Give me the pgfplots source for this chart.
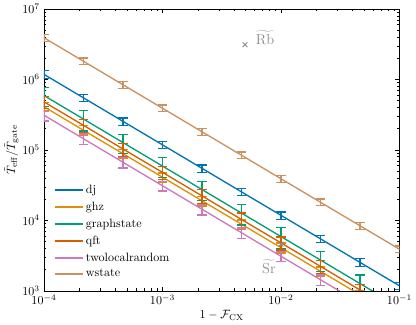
\documentclass[border=0pt]{standalone}
\usepackage{pgfplots}
\pgfplotsset{compat=1.18}
\definecolor{cdj}{HTML}{0173B2}
\definecolor{cghz}{HTML}{DE8F05}
\definecolor{cgraph}{HTML}{029E73}
\definecolor{cqft}{HTML}{D55E00}
\definecolor{ctwo}{HTML}{CC78BC}
\definecolor{cw}{HTML}{CA9161}
\definecolor{ann}{HTML}{8C8C8C}

% columns: 1-F_CX, ratio, relative error
\pgfplotstableread{
x y e
1e-4 1.18e6 0.13
2.154e-4 5.48e5 0.12
4.642e-4 2.54e5 0.12
1e-3 1.18e5 0.12
2.154e-3 5.48e4 0.12
4.642e-3 2.54e4 0.12
1e-2 1.18e4 0.12
2.154e-2 5.48e3 0.12
4.642e-2 2.54e3 0.13
1e-1 1.18e3 0.12
}\dj
\pgfplotstableread{
x y e
1e-4 4.1e5 0.15
2.154e-4 1.90e5 0.16
4.642e-4 8.83e4 0.15
1e-3 4.1e4 0.15
2.154e-3 1.90e4 0.16
4.642e-3 8.83e3 0.15
1e-2 4.1e3 0.16
2.154e-2 1.90e3 0.15
4.642e-2 8.83e2 0.15
1e-1 4.1e2 0.15
}\ghz
\pgfplotstableread{
x y e
1e-4 5.9e5 0.30
2.154e-4 2.74e5 0.32
4.642e-4 1.27e5 0.30
1e-3 5.9e4 0.31
2.154e-3 2.74e4 0.30
4.642e-3 1.27e4 0.32
1e-2 5.9e3 0.33
2.154e-2 2.74e3 0.31
4.642e-2 1.27e3 0.32
1e-1 5.9e2 0.30
}\graph
\pgfplotstableread{
x y e
1e-4 4.8e5 0.20
2.154e-4 2.23e5 0.22
4.642e-4 1.03e5 0.21
1e-3 4.8e4 0.20
2.154e-3 2.23e4 0.22
4.642e-3 1.03e4 0.24
1e-2 4.8e3 0.21
2.154e-2 2.23e3 0.22
4.642e-2 1.03e3 0.20
1e-1 4.8e2 0.20
}\qft
\pgfplotstableread{
x y e
1e-4 3.1e5 0.17
2.154e-4 1.44e5 0.17
4.642e-4 6.68e4 0.17
1e-3 3.1e4 0.16
2.154e-3 1.44e4 0.17
4.642e-3 6.68e3 0.17
1e-2 3.1e3 0.16
2.154e-2 1.44e3 0.17
4.642e-2 6.68e2 0.17
1e-1 3.1e2 0.17
}\two
\pgfplotstableread{
x y e
1e-4 3.9e6 0.12
2.154e-4 1.81e6 0.11
4.642e-4 8.40e5 0.11
1e-3 3.9e5 0.11
2.154e-3 1.81e5 0.11
4.642e-3 8.40e4 0.11
1e-2 3.9e4 0.11
2.154e-2 1.81e4 0.11
4.642e-2 8.40e3 0.11
1e-1 3.9e3 0.11
}\wst

\begin{document}
\begin{tikzpicture}
\begin{loglogaxis}[
  scale only axis,
  width=295pt, height=234pt,
  xmin=1e-4, xmax=1e-1,
  ymin=1e3, ymax=1e7,
  xlabel={$1-\mathcal{F}_{\mathrm{CX}}$},
  ylabel={$\tilde{T}_{\mathrm{eff}}/\tilde{T}_{\mathrm{gate}}$},
  xlabel style={at={(axis description cs:0.5,-0.087)}, anchor=center},
  ylabel style={at={(axis description cs:-0.092,0.5)}, anchor=center},
  tick align=inside,
  major tick length=3.5pt,
  minor tick length=2pt,
  every tick/.style={black, thin},
  axis line style={black, thin},
  legend style={at={(0.017,0.025)}, anchor=south west, draw=none, fill=none,
    row sep=1.6pt, cells={anchor=west}},
  legend image code/.code={\draw[#1] (0pt,0pt) -- (23pt,0pt);},
  every axis plot/.append style={line width=1.1pt, mark=none},
  error bars/error bar style={line width=1.1pt},
  error bars/error mark options={rotate=90, mark size=3.8pt, line width=1.1pt},
  clip=true,
]
\addplot[ann, only marks, mark=x, mark size=2.8pt, line width=0.8pt, forget plot]
  coordinates {(4.97e-3,3.1e6) (1e-2,4.6e3)};
\node[ann, font=\large] at (axis cs:7.35e-3,3.9e6) {$\widetilde{\mathrm{Rb}}$};
\node[ann, font=\large] at (axis cs:7.9e-3,2.2e3) {$\widetilde{\mathrm{Sr}}$};

\addlegendimage{draw=cdj, line width=1.6pt}
\addlegendimage{draw=cghz, line width=1.6pt}
\addlegendimage{draw=cgraph, line width=1.6pt}
\addlegendimage{draw=cqft, line width=1.6pt}
\addlegendimage{draw=ctwo, line width=1.6pt}
\addlegendimage{draw=cw, line width=1.6pt}

\addplot[cdj, forget plot, error bars/.cd, y dir=both, y explicit relative]
  table[x=x, y=y, y error=e] {\dj};
\addplot[cghz, forget plot, error bars/.cd, y dir=both, y explicit relative]
  table[x=x, y=y, y error=e] {\ghz};
\addplot[cgraph, forget plot, error bars/.cd, y dir=both, y explicit relative]
  table[x=x, y=y, y error=e] {\graph};
\addplot[cqft, forget plot, error bars/.cd, y dir=both, y explicit relative]
  table[x=x, y=y, y error=e] {\qft};
\addplot[ctwo, forget plot, error bars/.cd, y dir=both, y explicit relative]
  table[x=x, y=y, y error=e] {\two};
\addplot[cw, forget plot, error bars/.cd, y dir=both, y explicit relative]
  table[x=x, y=y, y error=e] {\wst};
\legend{dj, ghz, graphstate, qft, twolocalrandom, wstate}
\end{loglogaxis}
\end{tikzpicture}
\end{document}
